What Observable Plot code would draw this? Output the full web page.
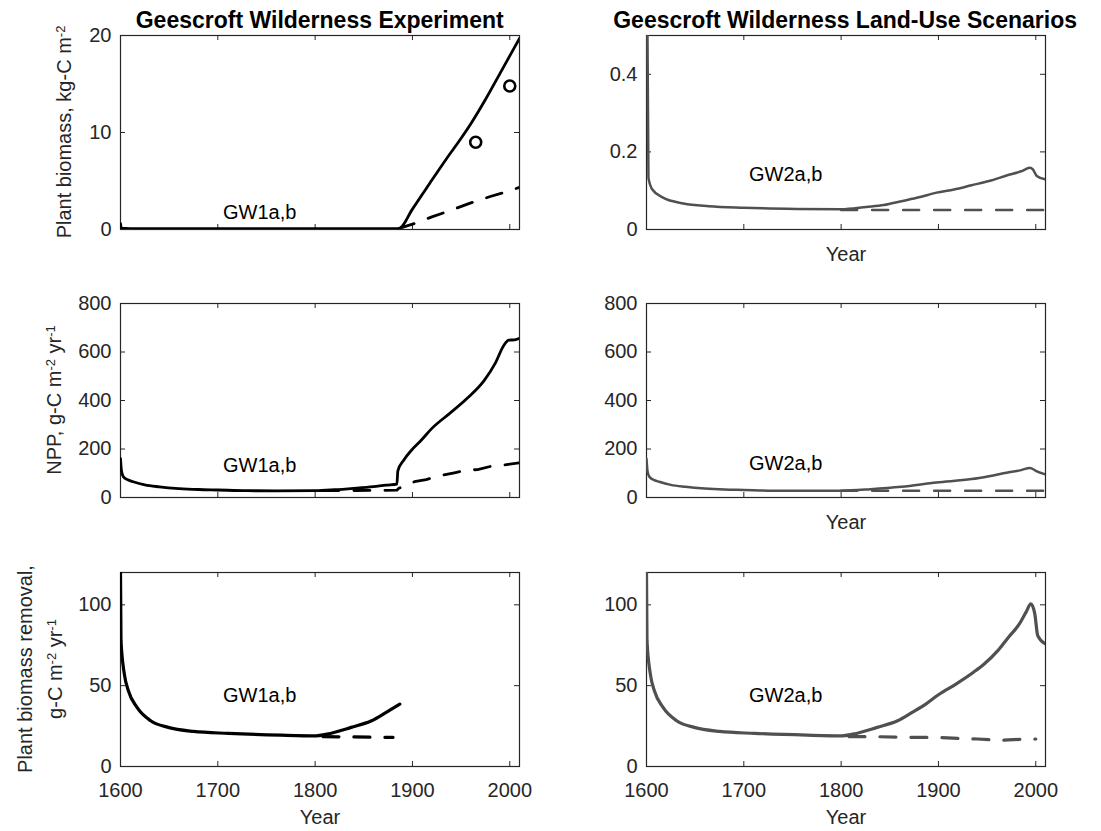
<!DOCTYPE html>
<html><head><meta charset="utf-8">
<script src="https://cdn.jsdelivr.net/npm/d3@7"></script>
<script src="https://cdn.jsdelivr.net/npm/@observablehq/plot@0.6"></script>
<style>
body{margin:0;background:#fff;}
#root{position:relative;width:1101px;height:831px;font-family:"Liberation Sans",Arial,Helvetica,sans-serif;overflow:hidden;background:#fff}
.ttl{position:absolute;font-weight:bold;font-size:23px;transform:translate(-50%,-50%);white-space:nowrap;color:#000}
.ylab{position:absolute;font-size:20px;color:#262626;transform:translate(-50%,-50%) rotate(-90deg);white-space:nowrap;text-align:center;line-height:30px}
.ylab sup{font-size:13px;position:relative;top:-0.45em;vertical-align:baseline;line-height:0}
.panel{position:absolute}
</style></head><body><div id="root"></div><script>
// ---------- data ----------
const xTicks = [1600, 1700, 1800, 1900, 2000];
const yTicksBiomass1 = [0, 10, 20];
const yTicksBiomass2 = [0, 0.2, 0.4];
const yTicksNPP = [0, 200, 400, 600, 800];
const yTicksRemoval = [0, 50, 100];

// GW1 (experiment) plant biomass, kg-C m-2
const gw1BiomassA_year = [1600, 1601, 1610, 1700, 1800, 1886, 1900, 1918, 1935, 1950, 1960, 1975, 1990, 2000, 2010];
const gw1BiomassA_val  = [0.6, 0.15, 0.1, 0.1, 0.1, 0.1, 2.1, 4.8, 7.3, 9.4, 10.9, 13.4, 16.1, 17.9, 19.7];
const gw1BiomassB_year = [1886, 1900, 1920, 1940, 1960, 1980, 2000, 2010];
const gw1BiomassB_val  = [0.1, 0.55, 1.3, 2.0, 2.75, 3.4, 4.0, 4.35];
const observed_year = [1965, 2000];
const observed_val  = [9.0, 14.8];

// GW1 NPP, g-C m-2 yr-1
const gw1NppA_year = [1600, 1601, 1603, 1608, 1613, 1625, 1640, 1660, 1680, 1700, 1730, 1760, 1800, 1820, 1840, 1860, 1873, 1884, 1885, 1891, 1899, 1909, 1920, 1938, 1956, 1974, 1985, 1994, 1999, 2005, 2010];
const gw1NppA_val  = [160, 110, 85, 72, 65, 52, 44, 37, 33, 31, 28, 27.5, 28, 32, 38, 45, 51, 55, 110, 154, 195, 236, 285, 346, 408, 484, 553, 628, 649, 650, 656];
const gw1NppB_year = [1808, 1884, 1886, 1902, 1914, 1931, 1943, 1956, 1967, 1981, 1992, 2010];
const gw1NppB_val  = [28, 30, 38, 65, 74, 92, 102, 113, 115, 129, 133, 143];

// GW1 plant biomass removal, g-C m-2 yr-1
const gw1RemovalA_year = [1600, 1600.5, 1604, 1608, 1617, 1631, 1649, 1675, 1711, 1765, 1801, 1812, 1837, 1858, 1873, 1887];
const gw1RemovalA_val  = [120, 78, 57, 47, 36.6, 28.3, 24.2, 21.7, 20.5, 19.4, 19.0, 20, 24.2, 28.3, 33.5, 38.6];
const gw1RemovalB_year = [1808, 1880];
const gw1RemovalB_val  = [18.5, 18];

// GW2 (land-use scenarios) plant biomass
const gw2BiomassA_year = [1600, 1601, 1602, 1606, 1617, 1638, 1664, 1700, 1754, 1800, 1826, 1844, 1862, 1880, 1898, 1916, 1934, 1952, 1970, 1985, 1994, 1997, 2001, 2010];
const gw2BiomassA_val  = [0.52, 0.5, 0.133, 0.103, 0.082, 0.067, 0.060, 0.056, 0.053, 0.052, 0.058, 0.063, 0.073, 0.083, 0.095, 0.103, 0.114, 0.125, 0.139, 0.15, 0.159, 0.155, 0.138, 0.129];
const gw2BiomassB_year = [1800, 2010];
const gw2BiomassB_val  = [0.05, 0.05];

// GW2 NPP
const gw2NppA_year = [1600, 1601, 1603, 1608, 1613, 1625, 1640, 1660, 1680, 1700, 1730, 1760, 1800, 1830, 1862, 1898, 1934, 1952, 1970, 1985, 1994, 2000, 2010];
const gw2NppA_val  = [160, 110, 85, 72, 65, 52, 44, 37, 33, 31, 28, 27.5, 28, 34, 44, 62, 76, 88, 102, 113, 122, 110, 95];
const gw2NppB_year = [1800, 2010];
const gw2NppB_val  = [28, 28];

// GW2 plant biomass removal
const gw2RemovalA_year = [1600, 1600.5, 1604, 1608, 1617, 1631, 1649, 1675, 1711, 1765, 1801, 1812, 1837, 1858, 1873, 1887, 1900, 1918, 1936, 1947, 1961, 1972, 1983, 1990, 1995, 1999, 2002, 2010];
const gw2RemovalA_val  = [120, 78, 57, 47, 36.6, 28.3, 24.2, 21.7, 20.5, 19.4, 19.0, 20, 24.2, 28.3, 33.5, 38.6, 44.4, 51, 58.3, 63.4, 71.7, 80, 88, 95.5, 100.6, 94.4, 81, 75.8];
const gw2RemovalB_year = [1808, 1840, 1875, 1900, 1920, 1940, 1965, 1985, 2000];
const gw2RemovalB_val  = [18.5, 18.4, 18, 18, 17.4, 17, 16.3, 16.8, 17];

const labelText = ["GW1a,b", "GW2a,b"];
const labelYear = 1743;

// ---------- drawing ----------
const rows = (ys, vs) => ys.map((y, i) => ({year: y, value: vs[i]}));
const FONT = '"Liberation Sans", Arial, Helvetica, sans-serif';
const AX = "#262626";
const W = 399, H = 194, mL = 60, mR = 10, mT = 10, mB = 62;
const root = document.getElementById("root");

function panel(o) {
  const marks = [
    Plot.frame({stroke: AX, strokeWidth: 1.2}),
    Plot.tickX(xTicks, {x: d => d, stroke: AX, strokeWidth: 1, insetTop: H - 5}),
    Plot.tickX(xTicks, {x: d => d, stroke: AX, strokeWidth: 1, insetBottom: H - 5}),
    Plot.tickY(o.yTicks, {y: d => d, stroke: AX, strokeWidth: 1, insetRight: W - 5}),
    Plot.tickY(o.yTicks, {y: d => d, stroke: AX, strokeWidth: 1, insetLeft: W - 5}),
    Plot.axisY(o.yTicks, {tickSize: 0, tickPadding: 9, label: null, fontSize: 20, tickFormat: d => String(d)}),
    o.xLabels ? Plot.axisX(xTicks, {tickSize: 0, tickPadding: 16, label: null, fontSize: 20, tickFormat: d => String(d)}) : null,
    o.yearDy ? Plot.text(["Year"], {frameAnchor: "bottom", dy: o.yearDy, fontSize: 20, fill: AX, lineAnchor: "middle"}) : null,
    Plot.line(rows(o.b[0], o.b[1]), {x: "year", y: "value", stroke: o.color, strokeWidth: o.sw, strokeDasharray: "16,15", clip: true}),
    Plot.line(rows(o.a[0], o.a[1]), {x: "year", y: "value", stroke: o.color, strokeWidth: o.sw, curve: "monotone-x", clip: true}),
    o.dots ? Plot.dot(rows(o.dots[0], o.dots[1]), {x: "year", y: "value", r: 5.5, stroke: "#000", strokeWidth: 2.6, fill: "none"}) : null,
    Plot.text([o.label], {x: () => labelYear, y: () => o.labelY, fontSize: 20, fill: "#000", textAnchor: "middle", lineAnchor: "middle"})
  ].filter(Boolean);
  const svg = Plot.plot({
    width: W + mL + mR, height: H + mT + mB,
    marginLeft: mL, marginRight: mR, marginTop: mT, marginBottom: mB,
    x: {domain: [1600, 2010], axis: null},
    y: {domain: o.yDomain, axis: null},
    style: {fontFamily: FONT, fontSize: "20px", color: AX, background: "transparent", overflow: "visible"},
    marks
  });
  svg.classList.add("panel");
  svg.style.left = (o.left - mL) + "px";
  svg.style.top = (o.top - mT) + "px";
  svg.style.maxWidth = "none";
  root.appendChild(svg);
}

const colL = 120.2, colR = 645.6;
const rowT = [34.5, 303.3, 572.3];
const BLACK = "#000", GRAY = "#505050";

panel({left: colL, top: rowT[0], yDomain: [0, 20], yTicks: yTicksBiomass1, color: BLACK, sw: 2.8,
  a: [gw1BiomassA_year, gw1BiomassA_val], b: [gw1BiomassB_year, gw1BiomassB_val],
  dots: [observed_year, observed_val], label: labelText[0], labelY: 1.7});
panel({left: colR, top: rowT[0], yDomain: [0, 0.5], yTicks: yTicksBiomass2, color: GRAY, sw: 2.5,
  a: [gw2BiomassA_year, gw2BiomassA_val], b: [gw2BiomassB_year, gw2BiomassB_val],
  label: labelText[1], labelY: 0.141, yearDy: 25});
panel({left: colL, top: rowT[1], yDomain: [0, 800], yTicks: yTicksNPP, color: BLACK, sw: 2.8,
  a: [gw1NppA_year, gw1NppA_val], b: [gw1NppB_year, gw1NppB_val],
  label: labelText[0], labelY: 133});
panel({left: colR, top: rowT[1], yDomain: [0, 800], yTicks: yTicksNPP, color: GRAY, sw: 2.5,
  a: [gw2NppA_year, gw2NppA_val], b: [gw2NppB_year, gw2NppB_val],
  label: labelText[1], labelY: 140, yearDy: 25});
panel({left: colL, top: rowT[2], yDomain: [0, 120], yTicks: yTicksRemoval, color: BLACK, sw: 3.2,
  a: [gw1RemovalA_year, gw1RemovalA_val], b: [gw1RemovalB_year, gw1RemovalB_val],
  label: labelText[0], labelY: 43.7, xLabels: true, yearDy: 51});
panel({left: colR, top: rowT[2], yDomain: [0, 120], yTicks: yTicksRemoval, color: GRAY, sw: 3.2,
  a: [gw2RemovalA_year, gw2RemovalA_val], b: [gw2RemovalB_year, gw2RemovalB_val],
  label: labelText[1], labelY: 43.7, xLabels: true, yearDy: 51});

function addDiv(cls, html, x, y) {
  const d = document.createElement("div");
  d.className = cls; d.innerHTML = html;
  d.style.left = x + "px"; d.style.top = y + "px";
  root.appendChild(d);
}
addDiv("ttl", "Geescroft Wilderness Experiment", colL + W / 2, 20);
addDiv("ttl", "Geescroft Wilderness Land-Use Scenarios", colR + W / 2, 20);
addDiv("ylab", "Plant biomass, kg-C m<sup>-2</sup>", 64, rowT[0] + H / 2);
addDiv("ylab", "NPP, g-C m<sup>-2</sup> yr<sup>-1</sup>", 54, rowT[1] + H / 2);
addDiv("ylab", "Plant biomass removal,<br>g-C m<sup>-2</sup> yr<sup>-1</sup>", 40, rowT[2] + H / 2);
</script></body></html>
